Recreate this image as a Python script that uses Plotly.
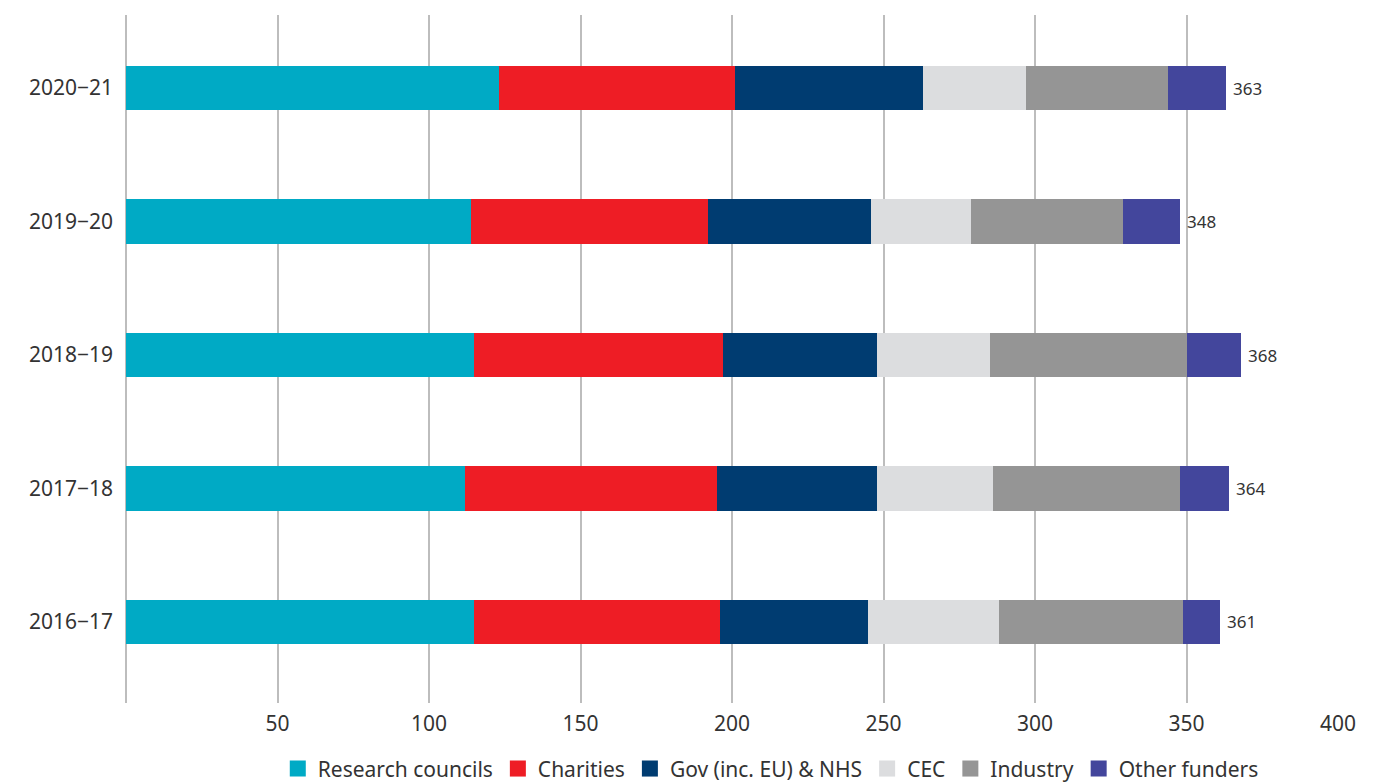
import plotly.graph_objects as go

years = ["2016\u221217", "2017\u221218", "2018\u221219", "2019\u221220", "2020\u221221"]
research_councils = [115, 112, 115, 114, 123]
charities = [81, 83, 82, 78, 78]
gov_nhs = [49, 53, 51, 54, 62]
cec = [43, 38, 37, 33, 34]
industry = [61, 62, 65, 50, 47]
other_funders = [12, 16, 18, 19, 19]
totals = [361, 364, 368, 348, 363]

series = [
    ("Research councils", research_councils, "#00AAC5"),
    ("Charities", charities, "#EE1D25"),
    ("Gov (inc. EU) & NHS", gov_nhs, "#003C71"),
    ("CEC", cec, "#DCDDDF"),
    ("Industry", industry, "#959595"),
    ("Other funders", other_funders, "#43469C"),
]

FONT = "Noto Sans"

fig = go.Figure()
for name, vals, col in series:
    fig.add_trace(go.Bar(
        y=years, x=vals, name=name, orientation="h",
        marker=dict(color=col, line=dict(width=0)),
        hoverinfo="x+name", showlegend=False, legendgroup=name,
    ))

# legend keys drawn as larger square swatches
for name, vals, col in series:
    fig.add_trace(go.Scatter(
        x=[None], y=[None], mode="markers", name=name, legendgroup=name,
        marker=dict(symbol="square", size=16, color=col),
        showlegend=True,
    ))

# total for each year, written just past the end of its bar
for yr, tot in zip(years, totals):
    fig.add_annotation(
        x=tot, y=yr, text=str(tot), showarrow=False,
        xanchor="left", yanchor="middle", xshift=5,
        font=dict(family=FONT, size=17, color="#333333"),
    )

fig.update_layout(
    barmode="stack",
    bargap=0.67,
    width=1395, height=783,
    paper_bgcolor="white", plot_bgcolor="white",
    margin=dict(l=126, r=57, t=15, b=80, autoexpand=False),
    font=dict(family=FONT, size=21, color="#333333"),
    xaxis=dict(
        range=[0, 400], tickvals=[50, 100, 150, 200, 250, 300, 350, 400],
        showgrid=True, gridcolor="#BDBDBD", gridwidth=1.5,
        zeroline=True, zerolinecolor="#BDBDBD", zerolinewidth=1.5,
        showline=False, ticks="", ticklabelstandoff=6,
        tickfont=dict(family=FONT, size=21, color="#333333"),
        fixedrange=True,
    ),
    yaxis=dict(
        categoryorder="array", categoryarray=years,
        range=[-0.607, 4.547],
        showgrid=False, zeroline=False, showline=False,
        ticks="", ticklabelstandoff=12,
        tickfont=dict(family=FONT, size=21, color="#333333"),
        fixedrange=True,
    ),
    legend=dict(
        orientation="h", x=0.532, xanchor="center", y=-0.066, yanchor="top",
        font=dict(family=FONT, size=21, color="#333333"),
        traceorder="normal", itemwidth=30, tracegroupgap=0,
        bgcolor="rgba(0,0,0,0)",
    ),
    showlegend=True,
)

fig.write_html("out.html")
